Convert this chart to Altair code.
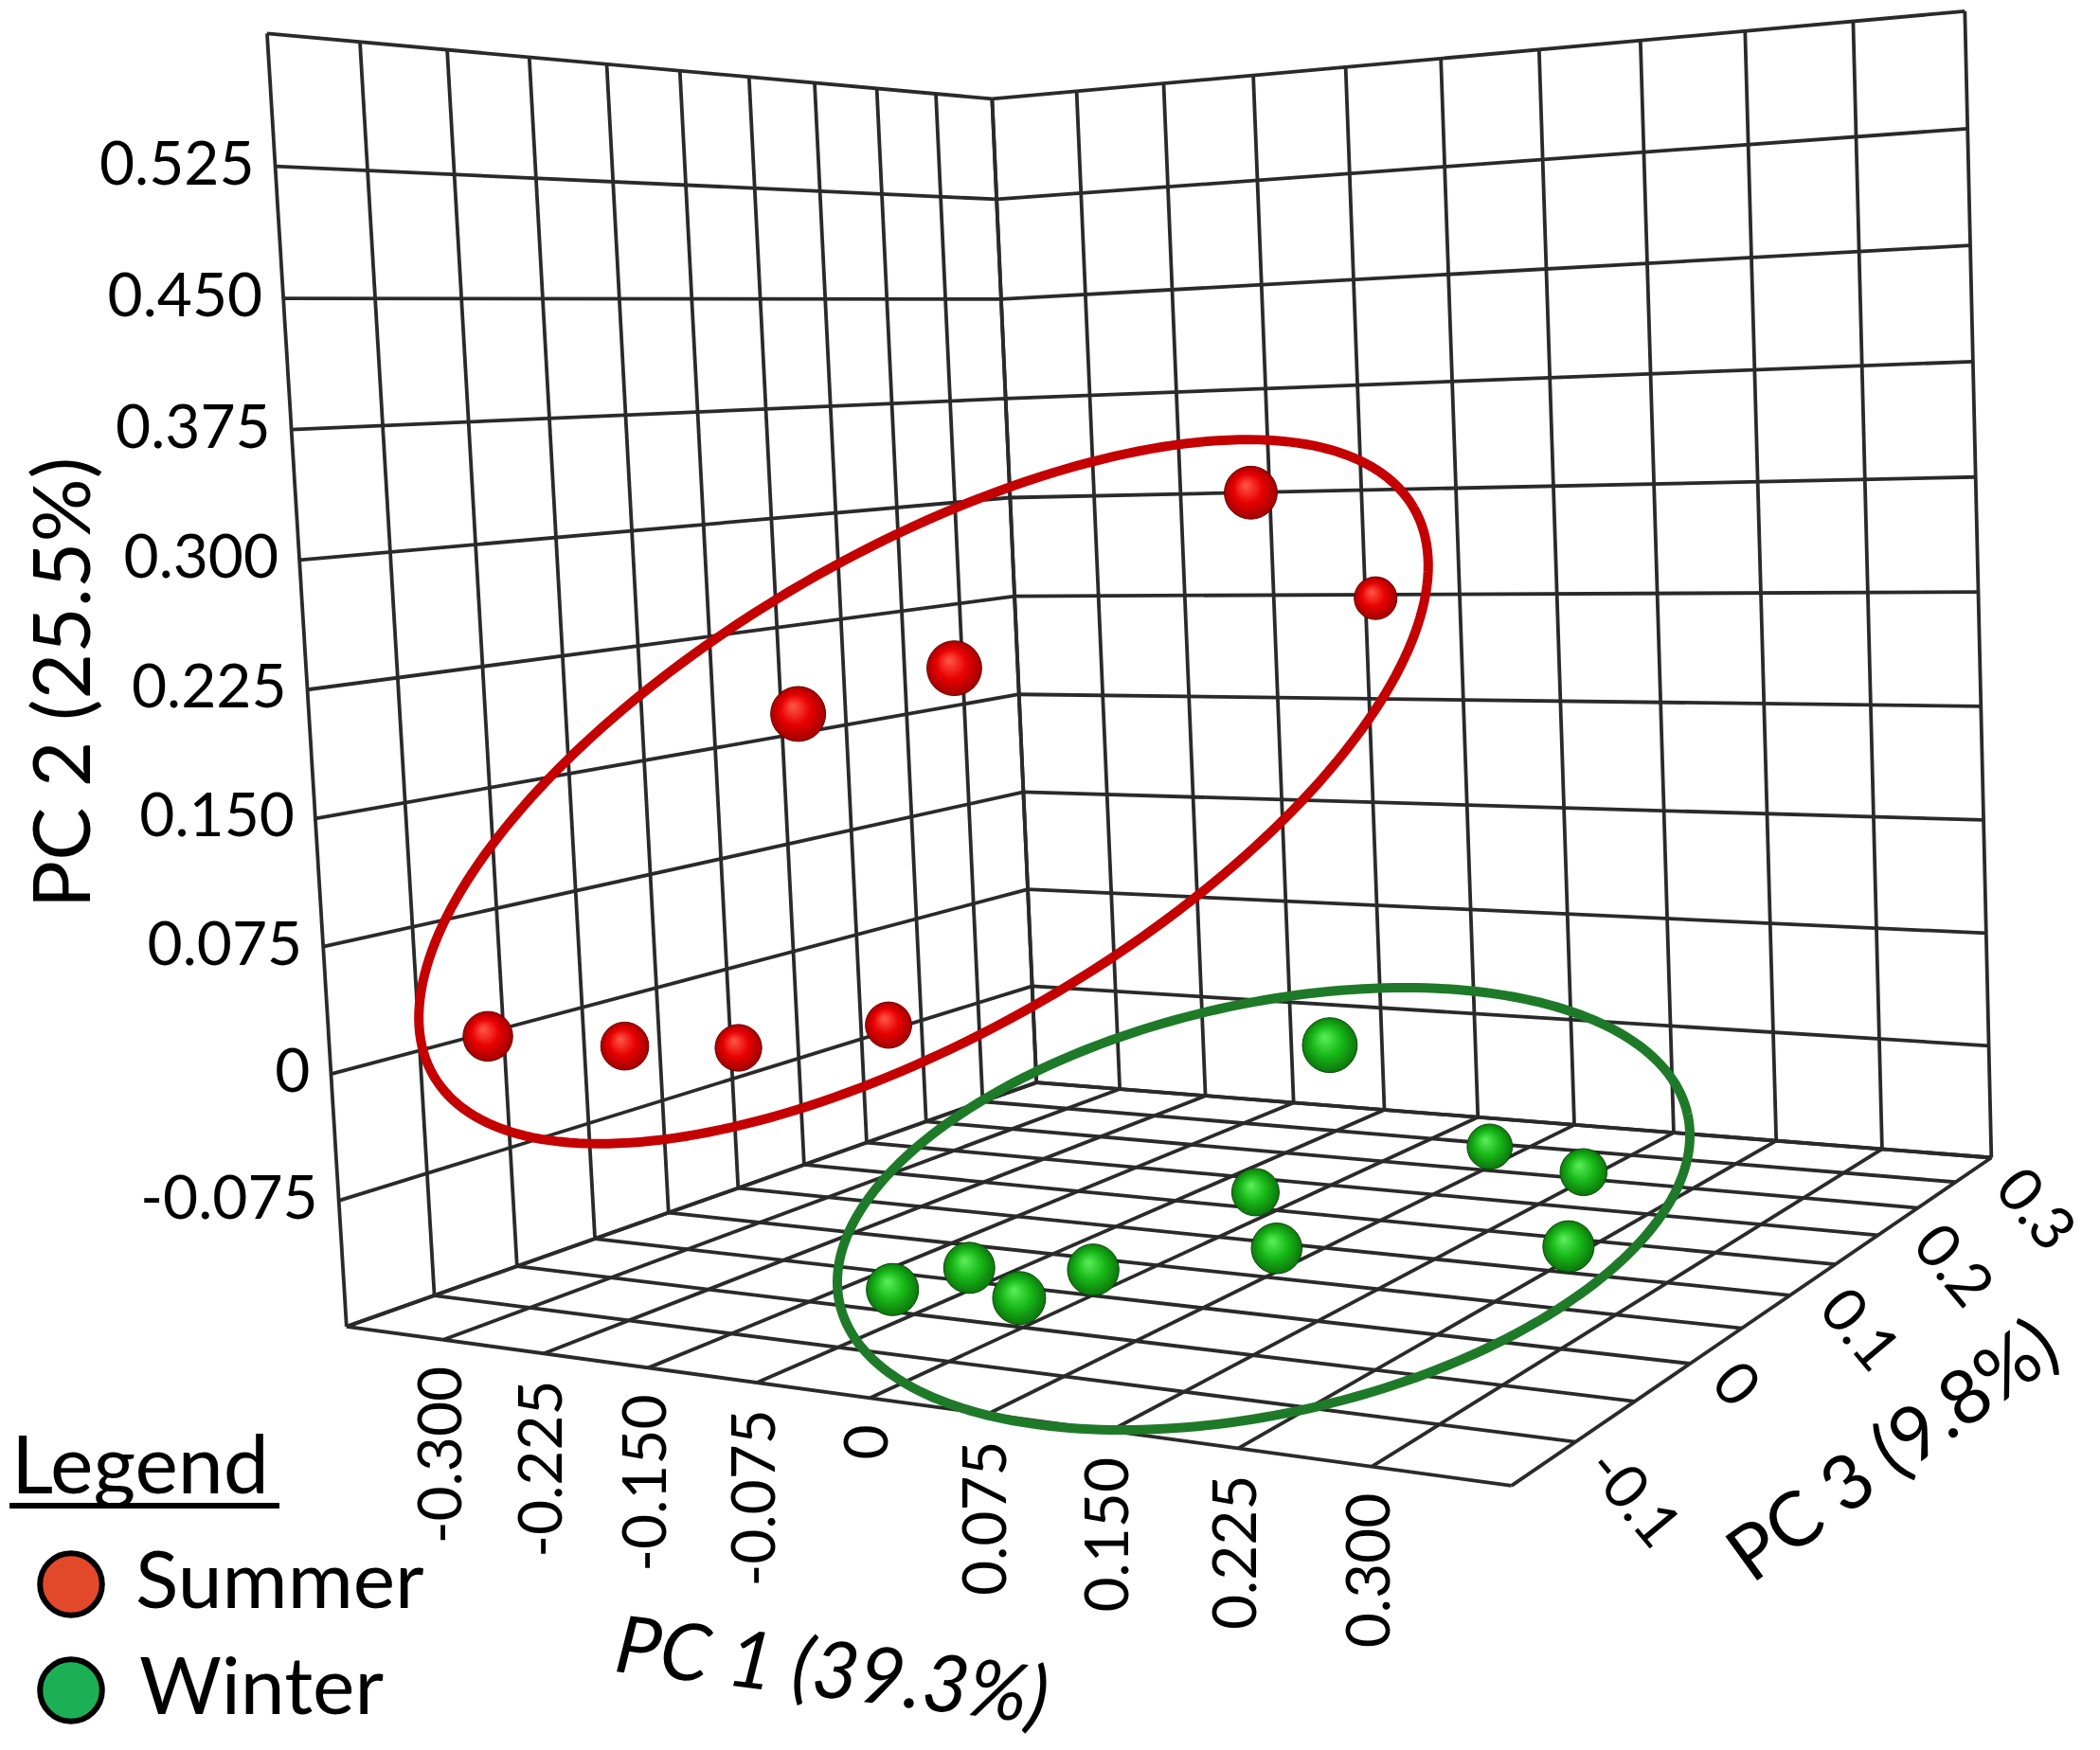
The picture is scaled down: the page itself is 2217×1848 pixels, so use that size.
import numpy as np
import pandas as pd
import altair as alt

# ---------------- data ----------------
season = ["Summer"] * 8 + ["Winter"] * 10
pc1 = [-0.343, -0.321, -0.297, -0.226, -0.062, 0.008, 0.114, -0.041,
       0.187, 0.088, 0.176, 0.005, 0.087, 0.245, -0.074, -0.060, 0.005, 0.011]
pc2 = [0.006, -0.017, -0.032, -0.025, 0.210, 0.231, 0.318, 0.226,
       0.018, -0.130, -0.130, -0.130, -0.130, -0.130, -0.130, -0.130, -0.130, -0.130]
pc3 = [-0.090, -0.030, 0.020, 0.060, -0.120, -0.090, 0.000, 0.270,
       -0.040, 0.201, 0.173, 0.099, 0.026, 0.066, -0.073, -0.038, -0.066, -0.024]

pc1_min, pc1_max = -0.375, 0.375
pc2_min, pc2_max = -0.150, 0.600
pc3_min, pc3_max = -0.150, 0.300
n_div = 10

pc1_ticks = [-0.300, -0.225, -0.150, -0.075, 0.0, 0.075, 0.150, 0.225, 0.300]
pc1_labels = ["-0.300", "-0.225", "-0.150", "-0.075", "0", "0.075", "0.150", "0.225", "0.300"]
pc2_ticks = [-0.075, 0.0, 0.075, 0.150, 0.225, 0.300, 0.375, 0.450, 0.525]
pc2_labels = ["-0.075", "0", "0.075", "0.150", "0.225", "0.300", "0.375", "0.450", "0.525"]
pc3_ticks = [-0.1, 0.0, 0.1, 0.2, 0.3]
pc3_labels = ["-0.1", "0", "0.1", "0.2", "0.3"]

axis_titles = ["PC 1 (39.3%)", "PC 2 (25.5%)", "PC 3 (9.8%)"]
legend_items = ["Summer", "Winter"]

# ---------------- layout / camera ----------------
PAGE_W, PAGE_H, MARGIN = 2217, 1848, 8
W, H = PAGE_W - 2 * MARGIN, PAGE_H - 2 * MARGIN

# where the corners of the data box sit on the page (defines the 3-D camera)
cam_3d = [(pc1_min, pc2_max, pc3_min), (pc1_min, pc2_max, pc3_max), (pc1_max, pc2_max, pc3_max),
          (pc1_min, pc2_min, pc3_min), (pc1_max, pc2_min, pc3_min), (pc1_max, pc2_min, pc3_max),
          (pc1_min, pc2_min, pc3_max)]
cam_px = [(283, 37), (1046, 104), (2075, 11), (363, 1400), (1598, 1568), (2100, 1224), (1097, 1143)]

lo = np.array([pc1_min, pc2_min, pc3_min])
hi = np.array([pc1_max, pc2_max, pc3_max])


def fit_camera():
    rows = []
    for X, (u, v) in zip(cam_3d, cam_px):
        x, y, z = (np.array(X) - lo) / (hi - lo)
        u, v = u / 1000.0, v / 1000.0
        rows.append([x, y, z, 1, 0, 0, 0, 0, -u * x, -u * y, -u * z, -u])
        rows.append([0, 0, 0, 0, x, y, z, 1, -v * x, -v * y, -v * z, -v])
    _, _, vt = np.linalg.svd(np.array(rows))
    M = vt[-1].reshape(3, 4)
    hs = [M @ np.r_[(np.array(X) - lo) / (hi - lo), 1.0] for X in cam_3d]
    return M / np.mean([h[2] for h in hs])


P = fit_camera()


def project(X):
    n = (np.asarray(X, float) - lo) / (hi - lo)
    h = P @ np.r_[n, 1.0]
    return h[0] / h[2] * 1000.0, h[1] / h[2] * 1000.0, h[2]


SPHERE = 28.0  # sphere radius (px) at unit depth

# ---------------- grid of the three walls ----------------
g1 = np.linspace(pc1_min, pc1_max, n_div + 1)
g2 = np.linspace(pc2_min, pc2_max, n_div + 1)
g3 = np.linspace(pc3_min, pc3_max, n_div + 1)
segs = []
for z in g3:
    segs.append(((pc1_min, pc2_min, z), (pc1_min, pc2_max, z)))
for y in g2:
    segs.append(((pc1_min, y, pc3_min), (pc1_min, y, pc3_max)))
for x in g1:
    segs.append(((x, pc2_min, pc3_max), (x, pc2_max, pc3_max)))
for y in g2:
    segs.append(((pc1_min, y, pc3_max), (pc1_max, y, pc3_max)))
for x in g1:
    segs.append(((x, pc2_min, pc3_min), (x, pc2_min, pc3_max)))
for z in g3:
    segs.append(((pc1_min, pc2_min, z), (pc1_max, pc2_min, z)))
grid_rows = []
for a, b in segs:
    ua, va, _ = project(a)
    ub, vb, _ = project(b)
    grid_rows.append({"x": ua, "y": va, "x2": ub, "y2": vb})
grid_df = pd.DataFrame(grid_rows)

# ---------------- points ----------------
pts = pd.DataFrame({"season": season, "pc1": pc1, "pc2": pc2, "pc3": pc3})
pr = [project((a, b, c)) for a, b, c in zip(pts.pc1, pts.pc2, pts.pc3)]
pts["x"] = [p[0] for p in pr]
pts["y"] = [p[1] for p in pr]
pts["w"] = [p[2] for p in pr]
pts["area"] = np.pi * (SPHERE / pts["w"]) ** 2
pts = pts.sort_values("w", ascending=False)

xs = alt.Scale(domain=[MARGIN, PAGE_W - MARGIN], nice=False, zero=False)
ys = alt.Scale(domain=[MARGIN, PAGE_H - MARGIN], nice=False, zero=False, reverse=True)


def X_(f="x"):
    return alt.X(f, type="quantitative", scale=xs, axis=None)


def Y_(f="y"):
    return alt.Y(f, type="quantitative", scale=ys, axis=None)


grid = alt.Chart(grid_df).mark_rule(color="#2a2a2a", strokeWidth=3.8).encode(
    x=X_(), y=Y_(), x2="x2:Q", y2="y2:Q")

# cluster ellipses (screen-space annotation: centre, semi-axes, tilt)
ell_specs = {"Summer": (975, 836, 598, 254, 30.1, "#c40000"),
             "Winter": (1334, 1276.5, 458.6, 216.2, 12.6, "#1e7a28")}
ell_layers = []
for name, (cx, cy, a, b, th, col) in ell_specs.items():
    t = np.linspace(0, 2 * np.pi, 241)
    tr = np.deg2rad(th)
    ex = cx + a * np.cos(t) * np.cos(tr) - b * np.sin(t) * np.sin(tr)
    ey = cy - (a * np.cos(t) * np.sin(tr) + b * np.sin(t) * np.cos(tr))
    edf = pd.DataFrame({"x": ex, "y": ey, "i": np.arange(len(t))})
    ell_layers.append(alt.Chart(edf).mark_line(color=col, strokeWidth=10).encode(
        x=X_(), y=Y_(), order="i:Q"))


def grad(c0, c1, c2):
    return alt.RadialGradient(gradient="radial", x1=0.4, y1=0.35, r1=0.0, x2=0.5, y2=0.5, r2=0.55,
                              stops=[alt.GradientStop(color=c0, offset=0.0),
                                     alt.GradientStop(color=c1, offset=0.5),
                                     alt.GradientStop(color=c2, offset=1.0)])


sum_pts = alt.Chart(pts[pts.season == "Summer"]).mark_circle(
    fill=grad("#ff5a4a", "#e80000", "#950000"), opacity=1, stroke="#6a0000", strokeWidth=1).encode(
    x=X_(), y=Y_(), size=alt.Size("area:Q", scale=None))
win_pts = alt.Chart(pts[pts.season == "Winter"]).mark_circle(
    fill=grad("#5cf05c", "#18b818", "#0a6a0a"), opacity=1, stroke="#064a06", strokeWidth=1).encode(
    x=X_(), y=Y_(), size=alt.Size("area:Q", scale=None))

# ---------------- tick labels ----------------
FONT = "Lato"
pc2_df = pd.DataFrame([{"x": project((pc1_min, v, pc3_min))[0] - 22, "y": project((pc1_min, v, pc3_min))[1], "t": s}
                       for v, s in zip(pc2_ticks, pc2_labels)])
pc1_df = pd.DataFrame([{"x": project((v, pc2_min, pc3_min))[0], "y": project((v, pc2_min, pc3_min))[1] + 28, "t": s}
                       for v, s in zip(pc1_ticks, pc1_labels)])
pc3_df = pd.DataFrame([{"x": project((pc1_max, pc2_min, v))[0] + 16, "y": project((pc1_max, pc2_min, v))[1] + 22, "t": s}
                       for v, s in zip(pc3_ticks, pc3_labels)])
t2 = alt.Chart(pc2_df).mark_text(font=FONT, fontSize=64, align="right", baseline="middle", color="black").encode(
    x=X_(), y=Y_(), text="t:N")
t1 = alt.Chart(pc1_df).mark_text(font=FONT, fontSize=64, align="right", baseline="middle", angle=270,
                                 color="black").encode(x=X_(), y=Y_(), text="t:N")
t3 = alt.Chart(pc3_df).mark_text(font=FONT, fontSize=64, align="left", baseline="middle", angle=50,
                                 color="black").encode(x=X_(), y=Y_(), text="t:N")

# ---------------- axis titles ----------------
titles = [
    (axis_titles[1], 95, 721, 270, "normal", "alphabetic", 84),
    (axis_titles[0], 878, 1768, 7, "italic", "middle", 84),
    (axis_titles[2], 2000, 1534, 324, "normal", "middle", 80),
]
title_layers = []
for txt, tx, ty, ang, style, bl, fs in titles:
    title_layers.append(alt.Chart(pd.DataFrame({"x": [tx], "y": [ty], "t": [txt]})).mark_text(
        font=FONT, fontSize=fs, align="center", baseline=bl, angle=ang, fontStyle=style, color="black").encode(
        x=X_(), y=Y_(), text="t:N"))

# ---------------- legend ----------------
leg_fill = ["#e2492b", "#1daf55"]
leg_df = pd.DataFrame({"x": [75, 75], "y": [1673, 1785], "tx": [143, 147], "t": legend_items, "f": leg_fill})
leg_circ = alt.Chart(leg_df).mark_point(shape="circle", filled=True, size=np.pi * 37 ** 2, stroke="black",
                                        strokeWidth=6, opacity=1).encode(
    x=X_(), y=Y_(), fill=alt.Fill("f:N", scale=None))
leg_txt = alt.Chart(leg_df).mark_text(font=FONT, fontSize=84, align="left", baseline="middle",
                                      color="black").encode(x=X_("tx"), y=Y_(), text="t:N")
leg_title = alt.Chart(pd.DataFrame({"x": [12], "y": [1577], "t": ["Legend"]})).mark_text(
    font=FONT, fontSize=86, align="left", baseline="alphabetic", color="black").encode(x=X_(), y=Y_(), text="t:N")
leg_line = alt.Chart(pd.DataFrame({"x": [10], "x2": [295], "y": [1590]})).mark_rule(
    color="black", strokeWidth=6).encode(x=X_(), x2="x2:Q", y=Y_())

chart = alt.layer(grid, *ell_layers, sum_pts, win_pts, t1, t2, t3, *title_layers,
                  leg_circ, leg_txt, leg_title, leg_line).properties(
    width=W, height=H, padding=0, autosize="none", background="white").configure_view(stroke=None)

chart.save("out.html", embed_options={"renderer": "svg", "actions": False})
